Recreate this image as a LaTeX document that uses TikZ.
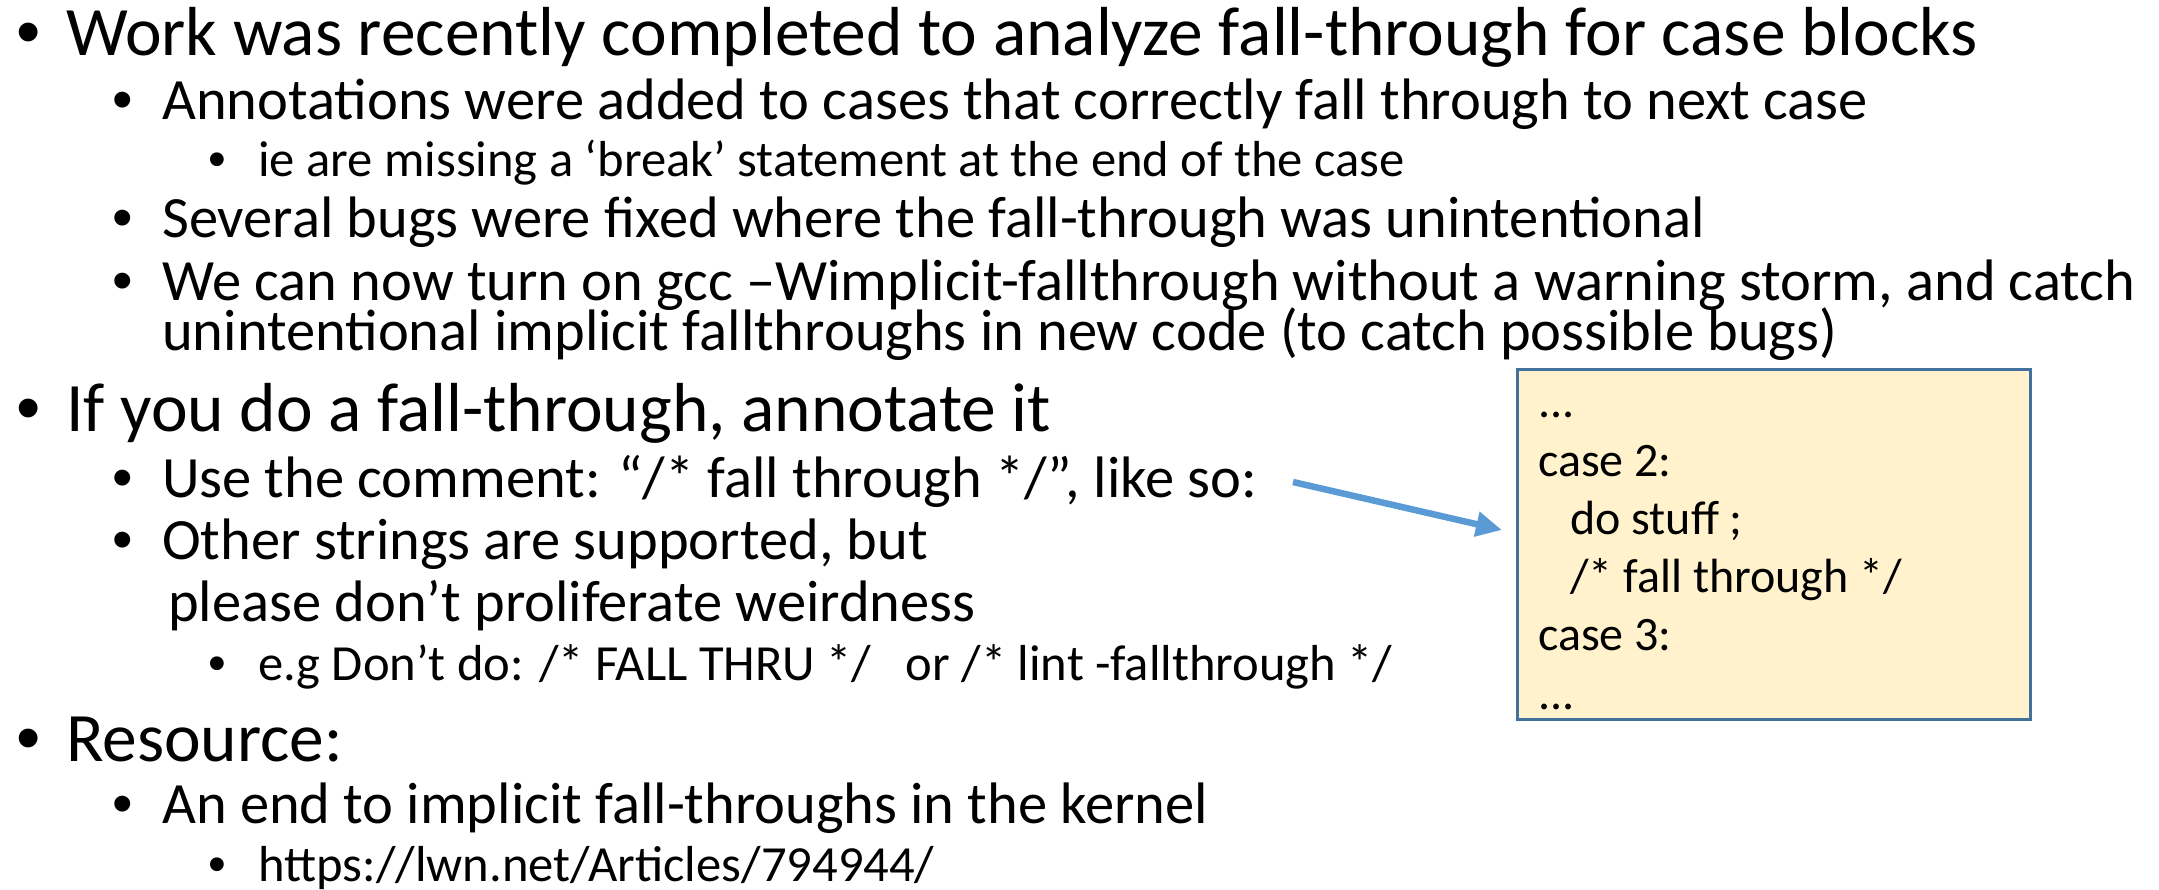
\documentclass[tikz,border=0pt]{standalone}
\usepackage{fontspec}
\setmainfont{Carlito}
\newfontfamily\bulletfont{Liberation Sans}
\usetikzlibrary{arrows.meta}
\definecolor{arrowblue}{HTML}{5B9BD5}
\definecolor{boxline}{HTML}{41719C}
\definecolor{boxfill}{HTML}{FFF2CC}
\tikzset{
  lone/.style={anchor=base west, inner sep=0pt, font=\fontsize{69.4}{80}\selectfont},
  ltwo/.style={anchor=base west, inner sep=0pt, font=\fontsize{58.5}{66}\selectfont},
  lthree/.style={anchor=base west, inner sep=0pt, font=\fontsize{50.6}{56}\selectfont},
  bone/.style={anchor=base west, inner sep=0pt, font=\bulletfont\fontsize{69.4}{80}\selectfont},
  btwo/.style={anchor=base west, inner sep=0pt, font=\bulletfont\fontsize{58.5}{66}\selectfont},
  bthree/.style={anchor=base west, inner sep=0pt, font=\bulletfont\fontsize{50.6}{56}\selectfont},
  code/.style={anchor=base west, inner sep=0pt, font=\fontsize{48}{56}\selectfont},
  codebox/.style={draw=boxline, fill=boxfill, line width=3pt, inner sep=0pt},
  pointer/.style={draw=arrowblue, line width=6.5pt, -{Triangle[length=26pt,width=24pt]}}
}
\begin{document}
\begin{tikzpicture}[x=1pt,y=1pt]
\useasboundingbox (0,0) rectangle (2159,-889);
% level 1
\node[bone] (b1) at (16,-55) {•};
\node[lone] (t1) at (66,-55) {Work was recently completed to analyze fall-through for case blocks};
\node[bone] (b2) at (16,-431) {•};
\node[lone] (t2) at (66,-431) {If you do a fall-through, annotate it};
\node[bone] (b3) at (16,-761) {•};
\node[lone] (t3) at (66,-761) {Resource:};
% level 2
\node[btwo] (b4) at (112,-119) {•};
\node[ltwo] (t4) at (162,-119) {Annotations were added to cases that correctly fall through to next case};
\node[btwo] (b5) at (112,-237) {•};
\node[ltwo] (t5) at (162,-237) {Several bugs were fixed where the fall-through was unintentional};
\node[btwo] (b6) at (112,-300) {•};
\node[ltwo] (t6) at (162,-300) {We can now turn on gcc –Wimplicit-fallthrough without a warning storm, and catch};
\node[ltwo] (t6b) at (162,-350) {unintentional implicit fallthroughs in new code (to catch possible bugs)};
\node[btwo] (b7) at (112,-497) {•};
\node[ltwo] (t7) at (162,-497) {Use the comment: “/* fall through */”, like so:};
\node[btwo] (b8) at (112,-559) {•};
\node[ltwo] (t8) at (162,-559) {Other strings are supported, but};
\node[ltwo] (t8b) at (168,-621) {please don’t proliferate weirdness};
\node[btwo] (b9) at (112,-823) {•};
\node[ltwo] (t9) at (162,-823) {An end to implicit fall-throughs in the kernel};
% level 3
\node[bthree] (b10) at (208,-176) {•};
\node[lthree] (t10) at (258,-176) {ie are missing a ‘break’ statement at the end of the case};
\node[bthree] (b11) at (208,-680) {•};
\node[lthree] (t11) at (258,-680) {e.g Don’t do: /* FALL THRU */\ \ \ or /* lint -fallthrough */};
\node[bthree] (b12) at (208,-881) {•};
\node[lthree] (t12) at (258,-881) {https://lwn.net/Articles/794944/};
% code box
\path[codebox] (1517,-369) rectangle (2030,-719);
\node[code] (c1) at (1538,-417) {...};
\node[code] (c2) at (1538,-476) {case 2:};
\node[code] (c3) at (1570,-534) {do stuff ;};
\node[code] (c4) at (1570,-592) {/* fall through */};
\node[code] (c5) at (1538,-650) {case 3:};
\node[code] (c6) at (1538,-709) {...};
% arrow
\coordinate (astart) at (1293,-482);
\coordinate (atip) at (1502,-530);
\draw[pointer] (astart) -- (atip);
\end{tikzpicture}
\end{document}
